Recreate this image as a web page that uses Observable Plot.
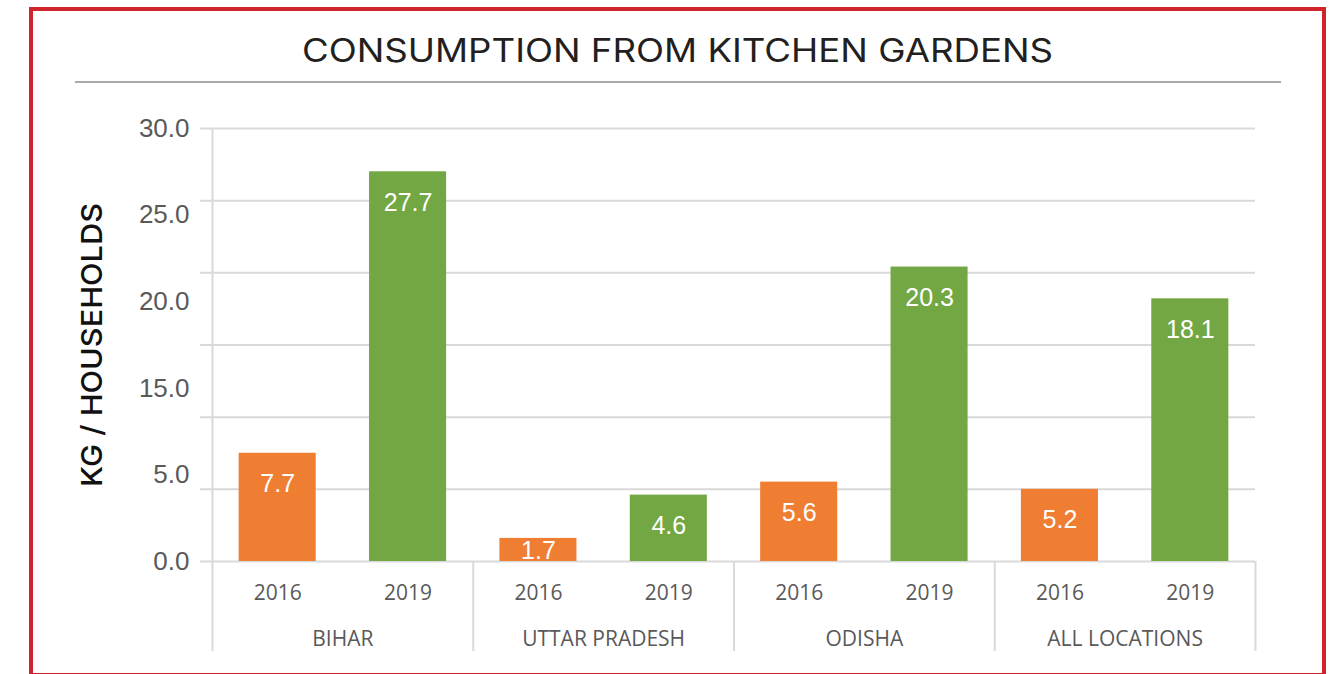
<!DOCTYPE html>
<html>
<head>
<meta charset="utf-8">
<script src="https://cdn.jsdelivr.net/npm/d3@7"></script>
<script src="https://cdn.jsdelivr.net/npm/@observablehq/plot@0.6"></script>
<style>
  html, body { margin: 0; padding: 0; background: #fff; }
  body { width: 1332px; height: 674px; position: relative; overflow: hidden; }
  #frame { position: absolute; left: 29px; top: 7px; width: 1297px; height: 670px; box-sizing: border-box; border: 4px solid #d1232a; }
  #titleLine { position: absolute; left: 75px; top: 81px; width: 1206px; height: 2px; background: #a7a9ac; }
  #titleSvg { position: absolute; left: 0; top: 0; }
  #chart { position: absolute; left: 0; top: 100px; }
</style>
</head>
<body>
<div id="frame"></div>
<svg id="titleSvg" width="1332" height="674">
  <text x="677.5" y="62" text-anchor="middle" textLength="751" lengthAdjust="spacingAndGlyphs"
        font-family="Inter, 'Noto Sans', sans-serif" font-size="32" font-weight="400" fill="#231f20">CONSUMPTION FROM KITCHEN GARDENS</text>
  <text transform="translate(102,345) rotate(-90)" text-anchor="middle" textLength="284" lengthAdjust="spacingAndGlyphs"
        font-family="Inter, 'Noto Sans', sans-serif" font-size="29" font-weight="500" fill="#111">KG / HOUSEHOLDS</text>
</svg>
<div id="titleLine"></div>
<div id="chart"></div>
<script>
// ---- data ----
const groups = ["BIHAR", "UTTAR PRADESH", "ODISHA", "ALL LOCATIONS"];
const years = ["2016", "2019"];
// printed data labels
const labels2016 = [7.7, 1.7, 5.6, 5.2];
const labels2019 = [27.7, 4.6, 20.3, 18.1];
// bar heights as drawn in the picture (read against the gridlines)
const bars2016 = [7.5, 1.6, 5.5, 5.0];
const bars2019 = [27.0, 4.6, 20.4, 18.2];
const gridTicks = [0, 5, 10, 15, 20, 25, 30];
const yLabelPositions = [0, 6, 12, 18, 24, 30];
const yLabelTexts = ["0.0", "5.0", "15.0", "20.0", "25.0", "30.0"];

// ---- build table ----
const rows = [];
groups.forEach((g, i) => {
  rows.push({key: g + "|" + years[0], group: g, year: years[0], bar: bars2016[i], label: labels2016[i]});
  rows.push({key: g + "|" + years[1], group: g, year: years[1], bar: bars2019[i], label: labels2019[i]});
});
const keys = rows.map(d => d.key);
const groupStartKeys = groups.map(g => g + "|" + years[0]);
const lastKey = keys[keys.length - 1];

const W = 1332, H = 574, mL = 212, mR = 77, mT = 28, mB = 113;
const halfStep = (W - mL - mR) / keys.length / 2;
const orange = "#f07e32", green = "#72a743";
const gridColor = "#d9d9d9";
const labelColor = "#595959";
const arial = "'Liberation Sans', Arial, sans-serif";
const openSans = "'Open Sans', sans-serif";

const chart = Plot.plot({
  width: W, height: H,
  marginLeft: mL, marginRight: mR, marginTop: mT, marginBottom: mB,
  style: {background: "transparent", overflow: "visible"},
  x: {domain: keys, paddingInner: 0.409, paddingOuter: 0.2045, align: 0.5, round: false},
  y: {domain: [0, 30]},
  color: {domain: years, range: [orange, green]},
  marks: [
    Plot.gridY(gridTicks, {stroke: gridColor, strokeOpacity: 1, strokeWidth: 2, insetLeft: -12}),
    Plot.axisY(yLabelPositions, {
      tickSize: 0, tickPadding: 23, label: null,
      tickFormat: d => yLabelTexts[yLabelPositions.indexOf(d)],
      fontSize: 26, fontFamily: arial, fill: labelColor
    }),
    // vertical axis line (full height, down to group labels)
    Plot.ruleX([keys[0]], {dx: -halfStep, stroke: gridColor, strokeWidth: 2, insetBottom: -90}),
    // group separators below the axis
    Plot.ruleX(groupStartKeys.slice(1), {dx: -halfStep, y1: () => 0, y2: () => 0, insetBottom: -90, stroke: gridColor, strokeWidth: 2}),
    Plot.ruleX([lastKey], {dx: halfStep, y1: () => 0, y2: () => 0, insetBottom: -90, stroke: gridColor, strokeWidth: 2}),
    Plot.barY(rows, {x: "key", y: "bar", fill: "year"}),
    Plot.text(rows.filter(d => d.bar >= 3), {
      x: "key", y: "bar", text: d => d.label.toFixed(1), dy: 31,
      fill: "white", fontSize: 25, fontFamily: arial
    }),
    Plot.text(rows.filter(d => d.bar < 3), {
      x: "key", y: d => d.bar / 2, text: d => d.label.toFixed(1), dy: 1,
      fill: "white", fontSize: 25, fontFamily: arial
    }),
    Plot.axisX({
      tickSize: 0, tickPadding: 24, label: null,
      tickFormat: k => k.split("|")[1],
      fontSize: 21, fontFamily: openSans, fill: labelColor
    }),
    Plot.axisX(groupStartKeys, {
      tickSize: 0, tickPadding: 70, label: null, dx: halfStep,
      tickFormat: k => k.split("|")[0],
      fontSize: 21, fontFamily: openSans, fill: labelColor
    })
  ]
});
document.getElementById("chart").appendChild(chart);
</script>
</body>
</html>
